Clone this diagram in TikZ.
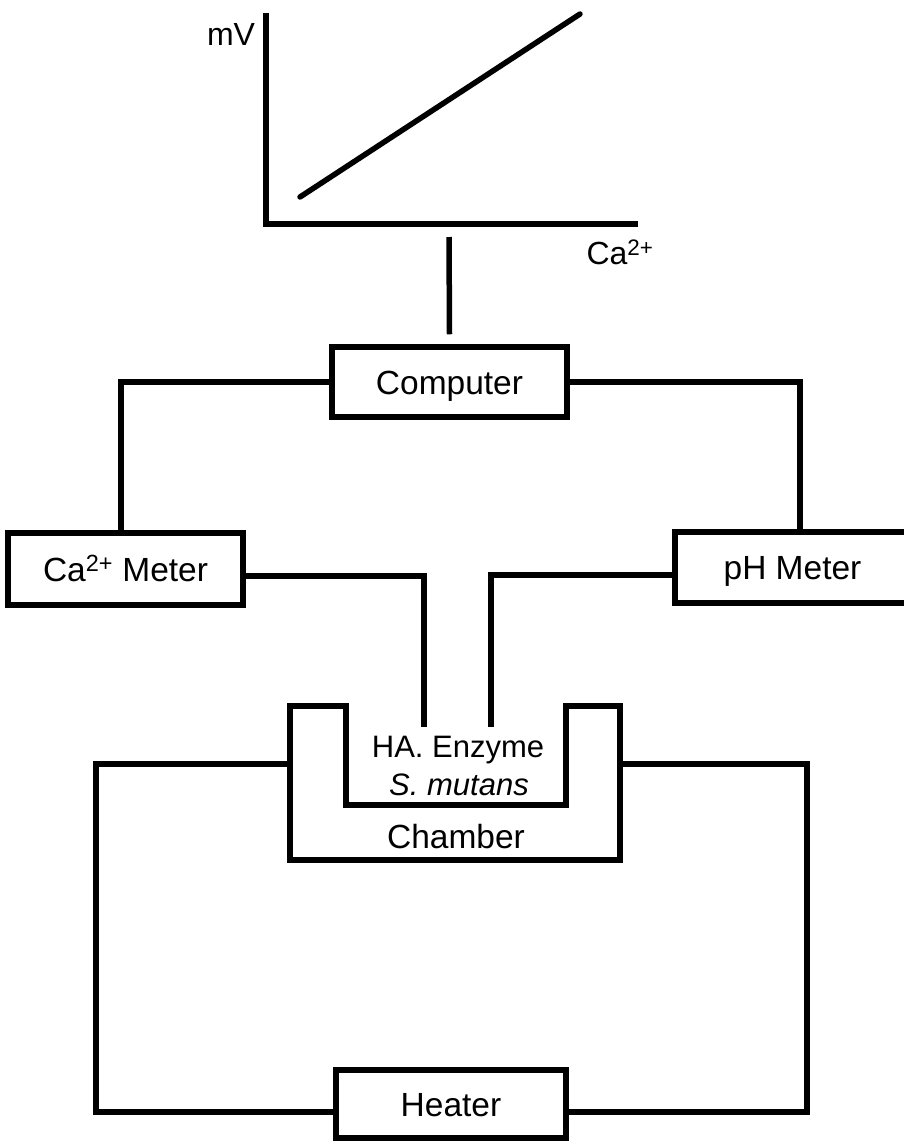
\documentclass[tikz,border=0pt]{standalone}
\usepackage{fontspec}
\setmainfont{Liberation Sans}
\begin{document}
\begin{tikzpicture}[x=1pt,y=-1pt,
  wire/.style={line width=5.5pt},
  box/.style={draw,line width=5.5pt,rectangle,inner sep=0pt,text height=24pt,text depth=0pt,font=\fontsize{33.5}{36}\selectfont},
  lbl/.style={inner sep=0pt,font=\fontsize{33.5}{36}\selectfont},
  small/.style={inner sep=0pt,font=\fontsize{31}{34}\selectfont}]
\useasboundingbox (0,0) rectangle (903,1141);
% graph
\coordinate (ytop) at (266,13);
\coordinate (orig) at (266,224);
\coordinate (xend) at (638,224);
\coordinate (ls) at (300,197);
\coordinate (le) at (580,14);
\draw[wire] (ytop) -- (orig) -- (xend);
\draw[wire,line cap=round] (ls) -- (le);
\node[lbl,font=\fontsize{32}{34}\selectfont] (mv) at (231,34) {mV};
\node[lbl,font=\fontsize{32}{34}\selectfont] (ca) at (620,252) {Ca\textsuperscript{2+}};
% boxes
\node[box,minimum width=235,minimum height=70] (computer) at (449.5,382) {Computer};
\node[box,minimum width=235,minimum height=72] (cameter) at (125.5,569) {Ca\textsuperscript{2+} Meter};
\node[box,minimum width=235,minimum height=71] (phmeter) at (792.5,567.5) {pH Meter};
\node[box,minimum width=230,minimum height=68] (heater) at (451,1104) {Heater};
% graph tick
\coordinate (gtick) at (449,237);
\draw[wire] ([yshift=10]computer.north) -- (gtick);
% chamber
\draw[wire] (290,706) -- (346,706) -- (346,805) -- (566,805) -- (566,706) -- (620,706) -- (620,860) -- (290,860) -- cycle;
\coordinate (chL) at (290,764);
\coordinate (chR) at (620,764);
\coordinate (probeA) at (424,727);
\coordinate (probeB) at (491,727);
\node[small] (ha) at (458,750) {HA. Enzyme};
\node[small] (sm) at (459,785) {\textit{S. mutans}};
\node[lbl] (chamber) at (456,837) {Chamber};
% connectors
\draw[wire] (computer.west) -| ([xshift=-4.5]cameter.north);
\draw[wire] (computer.east) -| ([xshift=7.5]phmeter.north);
\draw[wire] ([yshift=-7]cameter.east) -| (probeA);
\draw[wire] ([yshift=-7.5]phmeter.west) -| (probeB);
\coordinate (hl) at (96,1112);
\coordinate (hr) at (807,1112);
\draw[wire] (chL) -| (hl) -- (hl -| heater.west);
\draw[wire] (chR) -| (hr) -- (hr -| heater.east);
\end{tikzpicture}
\end{document}
